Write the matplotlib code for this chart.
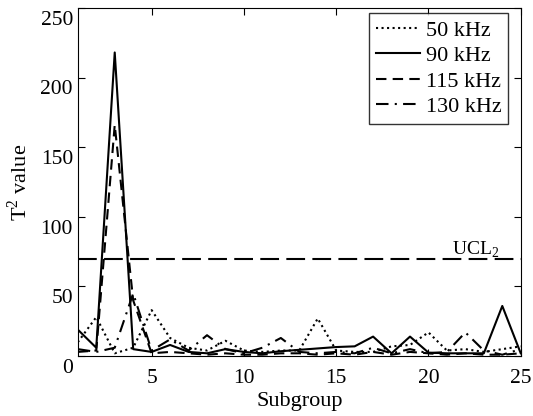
import matplotlib.pyplot as plt
import matplotlib.transforms as mtransforms
import numpy as np

plt.rcParams["font.family"] = ["Liberation Serif", "DejaVu Serif"]
plt.rcParams["mathtext.fontset"] = "custom"
plt.rcParams["mathtext.rm"] = "Liberation Serif"

subgroup = np.arange(1, 26)
t2_50 = [10, 28, 2, 6, 33, 13, 6, 4, 11, 4, 3, 4, 4, 27, 4, 3, 3, 7, 8, 17, 4, 5, 3, 5, 7]
t2_90 = [19, 6, 218, 5, 3, 8, 3, 2, 5, 3, 2, 3.5, 4.5, 5.5, 6.5, 7, 14, 2, 14, 2.5, 2, 2, 2, 36, 2]
t2_115 = [3, 4, 166, 40, 2, 3, 2, 1, 2, 1, 1, 2, 2, 1, 2, 1, 3, 1, 3, 2, 1, 2, 1, 1, 2]
t2_130 = [5, 3, 6, 45, 4, 12, 4, 15, 5, 2, 6, 13, 3, 2, 3, 2, 6, 2, 5, 2, 3, 17, 4, 1, 5]
ucl = 70

fig = plt.figure(figsize=(5.33, 4.16), dpi=100)
ax = fig.add_axes([0.146, 0.144, 0.831, 0.837])

ax.plot(subgroup, t2_50, color="black", linestyle=":", linewidth=1.5, label="50 kHz")
ax.plot(subgroup, t2_90, color="black", linestyle="-", linewidth=1.5, label="90 kHz")
ax.plot(subgroup, t2_115, color="black", linestyle=(0, (5, 3)), linewidth=1.5, label="115 kHz")
ax.plot(subgroup, t2_130, color="black", linestyle=(0, (6, 3, 1, 3)), linewidth=1.5, label="130 kHz")
ax.axhline(ucl, color="black", linestyle=(0, (9, 3.5)), linewidth=1.5)
ax.text(21.3, ucl + 3, "UCL$_2$", fontsize=14)

ax.set_xlim(1, 25)
ax.set_ylim(0, 250)
ax.set_xticks([5, 10, 15, 20, 25])
ax.set_yticks([0, 50, 100, 150, 200, 250])
ax.tick_params(direction="in", top=True, right=True, labelsize=15.5, length=5)
ax.tick_params(axis="x", pad=9)
ax.tick_params(axis="y", pad=3.5)
# y tick labels sit a little below their ticks, as in the original
shift = mtransforms.ScaledTranslation(0, -7 / 72, fig.dpi_scale_trans)
for lab in ax.get_yticklabels():
    lab.set_transform(lab.get_transform() + shift)
ax.set_xlabel("Subgroup", fontsize=16, labelpad=3)
ax.set_ylabel("T$^2$ value", fontsize=16)
ax.yaxis.set_label_coords(-0.105, 0.5)

leg = ax.legend(loc="upper right", bbox_to_anchor=(0.972, 0.984), fontsize=16,
                frameon=True, fancybox=False, edgecolor="black", handlelength=2.0,
                handletextpad=0.25, borderpad=0.3, labelspacing=0.22, borderaxespad=0)
leg.get_frame().set_linewidth(1.0)

fig.savefig("out.png", dpi=100)
